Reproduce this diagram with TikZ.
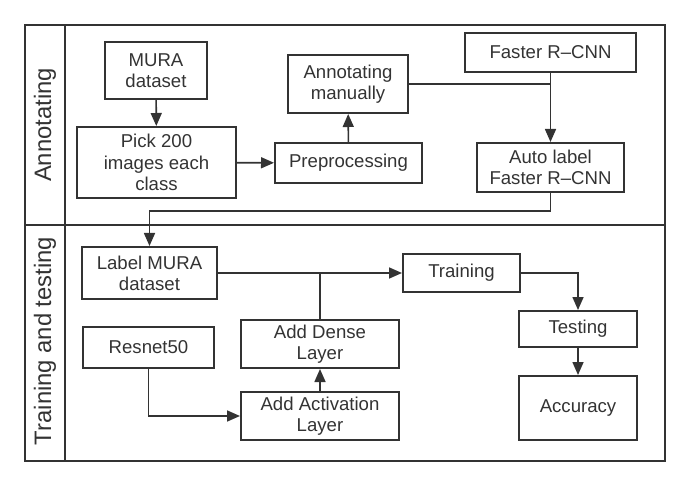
\documentclass[tikz,border=0pt]{standalone}
\usepackage{fontspec}
\setmainfont{Liberation Sans}
\usepackage{tikz}
\usetikzlibrary{arrows.meta}
\definecolor{ink}{RGB}{51,51,51}
% one box: name, centre x, centre y, width, height (all in pixels), text
\newcommand{\stepbox}[6]{
\node[blockbox, minimum width=#4*0.5pt, minimum height=#5*0.5pt] (#1) at (#2,#3) {#6};
}
\tikzset{
  blockbox/.style={draw=ink, line width=1pt, text=ink, align=center, inner sep=1pt,
    font=\fontsize{9.3}{10.6}\selectfont},
  lanelabel/.style={text=ink, rotate=90, font=\fontsize{11.9}{13}\selectfont},
  flowline/.style={draw=ink, line width=0.8pt},
  flowarrow/.style={flowline, -{Triangle[length=6.5pt,width=5.5pt]}}
}

\begin{document}
\begin{tikzpicture}[x=0.5pt,y=-0.5pt]
\useasboundingbox (0,0) rectangle (690,486);
% lanes
\draw[ink, line width=1pt] (25,25) rectangle (665,461);
\draw[ink, line width=1pt] (65,25)--(65,461);
\draw[ink, line width=1pt] (25,225)--(665,225);
\node[lanelabel] (annotlane) at (45,125) {Annotating};
\node[lanelabel] (trainlane) at (45,341) {Training and testing};
% annotating
\stepbox{mura}{156}{70.5}{102}{57}{MURA\\dataset}
\stepbox{pick}{156.5}{162.5}{159}{71}{Pick 200\\images each\\class}
\stepbox{prep}{348.5}{163}{147}{40}{Preprocessing}
\stepbox{manual}{348}{84}{120}{58}{Annotating\\manually}
\stepbox{faster}{550.5}{52.5}{171}{39}{Faster R--CNN}
\stepbox{auto}{550.5}{167.5}{147}{49}{Auto label\\Faster R--CNN}
% training and testing
\stepbox{label}{149.5}{273}{135}{52}{Label MURA\\dataset}
\stepbox{resnet}{148.5}{347.5}{131}{41}{Resnet50}
\stepbox{dense}{320}{344}{158}{48}{Add Dense\\Layer}
\stepbox{activation}{320}{416}{158}{48}{Add Activation\\Layer}
\stepbox{training}{461.5}{273}{117}{38}{Training}
\stepbox{testing}{578}{329}{118}{36}{Testing}
\stepbox{accuracy}{578}{408}{118}{64}{Accuracy}
% connectors
\draw[flowarrow] (mura) -- (pick);
\draw[flowarrow] (pick) -- (prep);
\draw[flowarrow] (prep) -- (manual);
\draw[flowarrow] (faster) -- (auto);
\draw[flowline] (manual.east) -- (manual.east -| faster.south);
\draw[flowarrow] (auto.south) -- ++(0,18) -| (label.north);
\draw[flowarrow] (label) -- (training);
\draw[flowline] (dense.north) -- (dense.north |- label.east);
\draw[flowarrow] (resnet.south) |- (activation.west);
\draw[flowarrow] (activation) -- (dense);
\draw[flowarrow] (training.east) -| (testing.north);
\draw[flowarrow] (testing) -- (accuracy);
\end{tikzpicture}
\end{document}
